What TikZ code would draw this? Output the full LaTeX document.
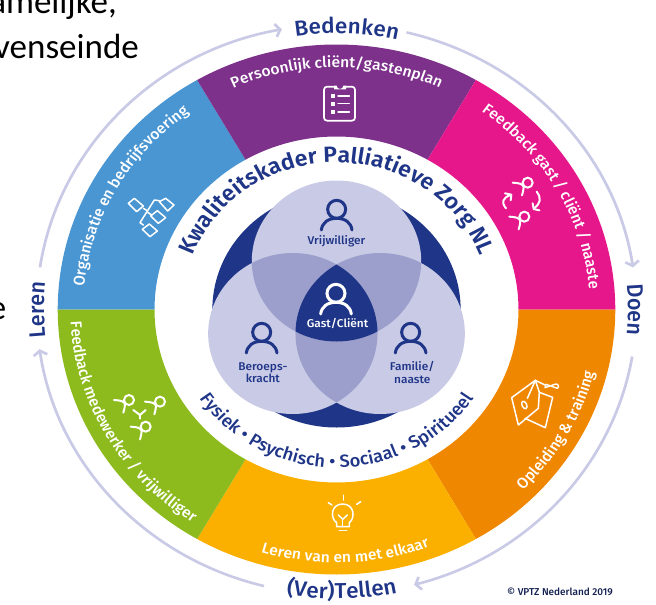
\documentclass[tikz,border=0pt]{standalone}
\usepackage{fontspec}
\setmainfont{Fira Sans}
\newfontfamily\fm{Fira Sans Medium}
\newfontfamily\fb{Fira Sans}[BoldFont=Fira Sans SemiBold]
\newfontfamily\cb{Carlito}
\usetikzlibrary{decorations.text,arrows.meta}
\definecolor{navy}{HTML}{1F3587}
\definecolor{lav}{HTML}{C9CAE6}
\definecolor{midlav}{HTML}{9C9FCB}
\definecolor{cblue}{HTML}{4A96D2}
\definecolor{cpurple}{HTML}{7D318B}
\definecolor{cpink}{HTML}{E6178B}
\definecolor{corange}{HTML}{F08700}
\definecolor{cyellow}{HTML}{FBB000}
\definecolor{cgreen}{HTML}{8DBB1E}
\newcommand\arctext[5]{\path[decorate,decoration={text along path,text align=center,text={|#4|#5}}] (#2:#1pt) arc[start angle=#2,end angle=#3,radius=#1pt];}
\newcommand\sector[3]{\fill[#1] (#2:173pt) arc[start angle=#2,end angle=#3,radius=173pt] -- (#3:265pt) arc[start angle=#3,end angle=#2,radius=265pt] -- cycle;}
\newcommand\seglabel{\fm\fontsize{14.9}{16}\selectfont\color{white}}
\newcommand\arclabel{\fm\fontsize{21.5}{22}\selectfont\color{navy}}
\newcommand\vennperson[3]{%
  \draw[#3,line width=3pt] (#1,#2) circle[radius=27];
  \draw[#3,line width=3pt,line cap=round] (#1-46,#2+62) .. controls (#1-43,#2+40) and (#1-26,#2+27) .. (#1,#2+27) .. controls (#1+26,#2+27) and (#1+43,#2+40) .. (#1+46,#2+62);}
\newcommand\lineperson[2]{%
  \draw[line width=2pt] (#1,#2) circle[radius=15];
  \draw[line width=2pt] (#1-45,#2) .. controls (#1-25,#2+1) and (#1-13,#2+4) .. (#1-12,#2+14) .. controls (#1-12,#2+22) and (#1-15,#2+30) .. (#1-17,#2+38);}
\tikzset{
  iconline/.style={draw=white,line width=1.5pt,line cap=round,line join=round},
  cyc/.style={draw=lav,line width=2.6pt,-{Straight Barb[length=4.5pt,width=13pt,line width=2.6pt]}},
  vennlabel/.style={font=\fm\fontsize{11.3}{12.5}\selectfont,text=navy,align=center,inner sep=0pt},
}
\begin{document}
\begin{tikzpicture}[x=1pt,y=1pt]
\useasboundingbox[fill=white] (0,0) rectangle (656,-605);
% cropped text of the slide behind
\node[font=\cb\fontsize{35}{35}\selectfont,anchor=base east,inner sep=0pt] (t1) at (117,-13) {amelijke,};
\node[font=\cb\fontsize{35}{35}\selectfont,anchor=base east,inner sep=0pt] (t2) at (139,-58) {venseinde};
\node[font=\cb\fontsize{35}{35}\selectfont,anchor=base east,inner sep=0pt] (t3) at (6.5,-319) {e};
\begin{scope}[transform canvas={xshift=336.5pt,yshift=-309.5pt,xscale=1.052}]
\sector{cblue}{120}{180}
\sector{cpurple}{60}{120}
\sector{cpink}{0}{60}
\sector{corange}{-60}{0}
\sector{cyellow}{-120}{-60}
\sector{cgreen}{180}{240}
% cycle arrows
\draw[cyc] (171.5:285pt) arc[start angle=171.5,end angle=100.5,radius=285pt];
\draw[cyc] (76.5:285pt) arc[start angle=76.5,end angle=8.5,radius=285pt];
\draw[cyc] (-9.5:285pt) arc[start angle=-9.5,end angle=-75,radius=285pt];
\draw[cyc] (256:285pt) arc[start angle=256,end angle=188,radius=285pt];
% arc labels
\arctext{276}{148}{28}{\arclabel}{Bedenken}
\arctext{277}{60}{-60}{\arclabel}{Doen}
\arctext{289}{211}{331}{\arclabel}{(Ver)Tellen}
\arctext{278}{230}{130}{\arclabel}{Leren}
% segment labels
\arctext{242}{150}{30}{\seglabel}{Persoonlijk cliënt/gastenplan}
\arctext{241}{210}{90}{\seglabel}{Organisatie en bedrijfsvoering}
\arctext{241}{90}{-30}{\seglabel}{Feedback gast / cliënt / naaste}
\arctext{253}{150}{270}{\seglabel}{Feedback medewerker / vrijwilliger}
\arctext{253}{212}{332}{\seglabel}{Leren van en met elkaar}
\arctext{253}{270}{390}{\seglabel}{Opleiding {\&} training}
% inner ring labels
\arctext{147}{175}{5}{\fb\bfseries\fontsize{22}{24}\selectfont\color{navy}}{Kwaliteitskader Palliatieve Zorg NL}
\arctext{158}{190}{350}{\fm\fontsize{17.5}{19}\selectfont\color{navy}}{Fysiek • Psychisch • Sociaal • Spiritueel}
% venn
\fill[navy] (0,0) circle[radius=118pt];
\coordinate (va) at (0,48.5);
\coordinate (vb) at (-41.5,-24);
\coordinate (vc) at (41.5,-24);
\fill[lav] (va) circle[radius=80.5pt] (vb) circle[radius=80.5pt] (vc) circle[radius=80.5pt];
\begin{scope}\clip (va) circle[radius=80.5pt]; \fill[midlav] (vb) circle[radius=80.5pt] (vc) circle[radius=80.5pt];\end{scope}
\begin{scope}\clip (vb) circle[radius=80.5pt]; \fill[midlav] (vc) circle[radius=80.5pt];\end{scope}
\begin{scope}\clip (va) circle[radius=80.5pt]; \clip (vb) circle[radius=80.5pt]; \fill[navy] (vc) circle[radius=80.5pt];\end{scope}
\node[vennlabel] (n1) at (0,68) {Vrijwilliger};
\node[vennlabel,text=white] (n2) at (1,-14.5) {Gast/Cliënt};
\node[vennlabel] (n3) at (-70,-63) {Beroeps-\\kracht};
\node[vennlabel] (n4) at (72,-63) {Familie/\\naaste};
\end{scope}
% persons in the venn (zoom coordinates)
\begin{scope}[shift={(200pt,-170pt)},x=.3333pt,y=-.3333pt]
\vennperson{410}{118}{navy}
\vennperson{408}{370}{white}
\vennperson{185}{487}{navy}
\vennperson{632}{487}{navy}
\end{scope}
% clipboard
\begin{scope}[shift={(310pt,-70pt)},x=.3333pt,y=-.3333pt]
\draw[iconline,line width=1.7pt,rounded corners=3pt] (72,50) -- (42,50) -- (42,152) -- (135,152) -- (135,50) -- (108,50);
\fill[white] (72,58) -- (72,47) -- (80,47) arc[start angle=180,end angle=0,radius=10] -- (108,47) -- (108,58) -- cycle;
\fill[cpurple] (90,41) circle[radius=4];
\foreach \yy in {78,101,126}{
 \fill[white] (62,\yy-6) rectangle (74,\yy+6);
 \draw[iconline] (84,\yy) -- (118,\yy);}
\end{scope}
% organisation chart
\begin{scope}[shift={(115pt,-180pt)},x=.3333pt,y=-.3333pt]
\draw[iconline] (40,70)--(58,55)--(85,78)--(65,95)--cycle;
\draw[iconline] (133,65)--(152,55)--(177,75)--(158,93)--cycle;
\draw[iconline] (107,108)--(127,92)--(152,113)--(130,130)--cycle;
\draw[iconline] (82,148)--(103,132)--(127,153)--(105,170)--cycle;
\draw[iconline] (133,62)--(118,60)--(75,128)--(85,135);
\draw[iconline] (85,85)--(98,93);
\draw[iconline] (98,97)--(110,105);
\end{scope}
% feedback circle
\begin{scope}[shift={(490pt,-165pt)},x=.3333pt,y=-.3333pt,every path/.append style={iconline}]
\lineperson{113}{53}
\lineperson{103}{155}
\draw[line width=2pt] (140,80) .. controls (155,100) and (152,115) .. (132,130);
\draw[line width=2pt] (128,115) -- (131,132) -- (148,136);
\draw[line width=2pt] (48,130) .. controls (33,112) and (38,98) .. (62,90);
\draw[line width=2pt] (45,85) -- (64,89) -- (62,106);
\end{scope}
% people trio
\begin{scope}[shift={(105pt,-385pt)},x=.3333pt,y=-.3333pt,every path/.append style={iconline}]
\lineperson{72}{45}
\lineperson{165}{50}
\lineperson{122}{125}
\draw[line width=2pt] (85,75)--(105,90)--(122,75);
\draw[line width=2pt] (105,90)--(105,101);
\end{scope}
% graduation cap
\begin{scope}[shift={(500pt,-365pt)},x=.3333pt,y=-.3333pt,every path/.append style={iconline}]
\draw (35,98)--(106,46)--(118,82)--(115,130)--(55,180)--cycle;
\draw (118,82)--(158,97)--(136,188)--(75,160);
\draw (106,46)--(82,100);
\draw[rotate around={-155:(73,120)}] (73,120) ellipse[x radius=7,y radius=12];
\draw (106,46)--(135,60);
\draw[line width=1.4pt] (138,58)--(172,70) arc[start angle=60,end angle=-120,radius=7]--(135,68)--cycle;
\end{scope}
% bulb
\begin{scope}[shift={(310pt,-480pt)},x=.3333pt,y=-.3333pt,every path/.append style={iconline}]
\draw (80,140)--(80,128) .. controls (60,115) and (62,72) .. (98,72) .. controls (134,72) and (136,115) .. (118,128) -- (118,140) -- cycle;
\draw (88,152)--(110,152);
\draw (85,105)--(98,118)--(112,105);
\draw (98,118)--(98,140);
\draw (100,46)--(100,60);
\draw (55,68)--(66,75);
\draw (152,65)--(140,73);
\end{scope}
\node[font=\fm\fontsize{10}{10}\selectfont,text=navy!60!black,inner sep=0pt] (copy) at (560,-592) {© VPTZ Nederland 2019};
\end{tikzpicture}
\end{document}
